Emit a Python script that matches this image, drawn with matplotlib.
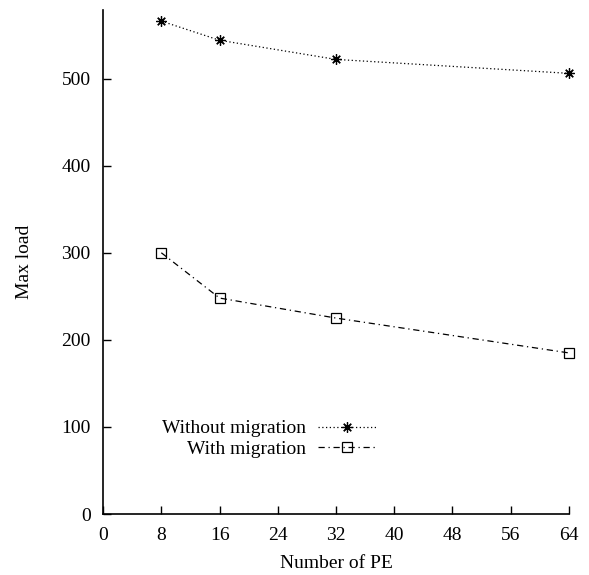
import numpy as np
import matplotlib
matplotlib.use('Agg')
import matplotlib.pyplot as plt

# Max load vs number of PE
num_pe = [8, 16, 32, 64]
without_migration = [566, 544, 522, 506]
with_migration = [300, 248, 225, 185]

x_ticks = [0, 8, 16, 24, 32, 40, 48, 56, 64]
y_ticks = [0, 100, 200, 300, 400, 500]

plt.rcParams['font.family'] = ['Liberation Serif', 'DejaVu Serif']
plt.rcParams['font.size'] = 14

fig = plt.figure(figsize=(5.89, 5.75), dpi=100)
ax = fig.add_axes([0.175, 0.106, 0.791, 0.877])

asterisk = (8, 2, 0)
ax.plot(num_pe, without_migration, color='black', lw=0.9, linestyle=(0, (1, 2)),
        marker=asterisk, markersize=7.5, markeredgewidth=0.9, clip_on=False,
        label='Without migration')
ax.plot(num_pe, with_migration, color='black', lw=0.9, linestyle=(0, (5, 3, 1, 3)),
        marker='s', markersize=6.5, markerfacecolor='none', markeredgewidth=0.9,
        clip_on=False, label='With migration')

ax.set_xlim(0, 64)
ax.set_ylim(0, 579)
ax.set_xticks(x_ticks)
ax.set_yticks(y_ticks)
ax.tick_params(direction='in', length=6, width=1, pad=9, colors='black')
for side in ['top', 'right']:
    ax.spines[side].set_visible(False)
for side in ['left', 'bottom']:
    ax.spines[side].set_linewidth(1.2)

ax.set_xlabel('Number of PE', labelpad=8)
ax.set_ylabel('Max load', labelpad=20)

# text left, sample right; rows get right-aligned by the legend itself
ax.legend(loc='center right', bbox_to_anchor=(0.586, 0.149), frameon=False,
          markerfirst=False, handlelength=3.0, handletextpad=0.6,
          labelspacing=0.15, borderpad=0, borderaxespad=0)

plt.savefig('out.png', dpi=100)
